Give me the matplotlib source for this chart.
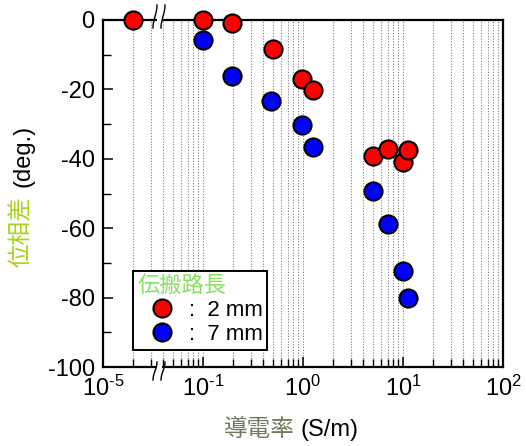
import matplotlib
matplotlib.use("Agg")
import matplotlib.pyplot as plt
from matplotlib.ticker import FixedLocator, NullFormatter, FixedFormatter
from matplotlib.lines import Line2D
import numpy as np

plt.rcParams['font.family'] = ['Liberation Sans', 'Noto Sans CJK JP', 'DejaVu Sans']
plt.rcParams['mathtext.fontset'] = 'custom'
plt.rcParams['mathtext.rm'] = 'Liberation Sans'
plt.rcParams['mathtext.it'] = 'Liberation Sans'
plt.rcParams['mathtext.default'] = 'regular'
plt.rcParams['axes.unicode_minus'] = False

# ---- data ----
cond_2mm = [2e-5, 0.10, 0.194, 0.50, 0.98, 1.27, 5.0, 7.0, 9.9, 11.1]
phase_2mm = [0.0, 0.0, -1.0, -8.4, -16.9, -20.2, -39.1, -37.2, -41.0, -37.4]
cond_7mm = [0.10, 0.195, 0.475, 0.98, 1.27, 5.0, 7.0, 9.9, 11.1]
phase_7mm = [-5.8, -16.1, -23.4, -30.2, -36.6, -49.2, -58.8, -72.3, -80.0]
xtick_vals = [1e-2, 1e-1, 1, 10, 100]
xtick_labels = [r'$10^{\text{-}5}$', r'$10^{\text{-}1}$', '$10^{0}$', '$10^{1}$', '$10^{2}$']
yticks = [0, -20, -40, -60, -80, -100]
legend_labels = [':  2 mm', ':  7 mm']

BREAK_LOW = 1e-3     # values below this live in the compressed segment
BREAK_SHIFT = 1e3    # 1e-5 (real) is drawn at 1e-2 on the axis


def axis_x(vals):
    v = np.asarray(vals, dtype=float)
    return np.where(v < BREAK_LOW, v * BREAK_SHIFT, v)


W, H = 526, 446
fig = plt.figure(figsize=(W / 100, H / 100), dpi=100)
L, R, T, B = 103, 503, 20, 367
ax = fig.add_axes([L / W, 1 - B / H, (R - L) / W, (B - T) / H])

ax.set_xscale('log')
ax.set_xlim(1e-2, 1e2)
ax.set_ylim(-100, 0)

ax.xaxis.set_major_locator(FixedLocator(xtick_vals))
ax.xaxis.set_major_formatter(FixedFormatter(xtick_labels))
minors = [m * 10.0 ** e for e in range(-2, 2) for m in range(2, 10)]
ax.xaxis.set_minor_locator(FixedLocator(minors))
ax.xaxis.set_minor_formatter(NullFormatter())
ax.set_yticks(yticks)
ax.set_yticks(np.arange(-90, 0, 20), minor=True)

ax.grid(True, which='both', axis='x', linestyle=(0, (1, 1.5)), color='0.5', linewidth=0.8)
ax.set_axisbelow(True)

for s in ax.spines.values():
    s.set_linewidth(1.6)

ax.tick_params(axis='both', which='major', direction='in', length=7.5, width=1.1,
               labelsize=17, pad=6, top=False, right=False)
ax.tick_params(axis='both', which='minor', direction='in', length=5.5, width=1.0,
               top=False, right=False)

ax.scatter(axis_x(cond_2mm), phase_2mm, s=170, facecolor='#ff0000', edgecolor='black',
           linewidth=1.5, zorder=4, clip_on=False)
ax.scatter(axis_x(cond_7mm), phase_7mm, s=170, facecolor='#0000ff', edgecolor='black',
           linewidth=1.5, zorder=4, clip_on=False)

# axis break marks
ax_w, ax_h = R - L, B - T
for ypix_top, ypix_bot in [(-15, 8), (B - T - 5, B - T + 13)]:
    for xpix in (155, 163):
        yy = np.linspace(ypix_top, ypix_bot, 30)
        xx = xpix - L - 2.0 * np.sin((yy - ypix_top) / (ypix_bot - ypix_top) * np.pi - np.pi / 2)
        ax.plot(xx / ax_w, 1 - yy / ax_h, transform=ax.transAxes, color='black',
                lw=1.0, clip_on=False, zorder=6)
    for yspine in (0, B - T):
        ax.add_patch(plt.Rectangle(((156.5 - L) / ax_w, 1 - (yspine + 2) / ax_h),
                                   5 / ax_w, 4 / ax_h, transform=ax.transAxes,
                                   facecolor='white', edgecolor='none', clip_on=False, zorder=5))

# axis labels (two-colour)
fig.text(295 / W, 1 - 430 / H, '導電率', color='#6b7b5b', fontsize=17, ha='right', va='center')
fig.text(300 / W, 1 - 430 / H, '(S/m)', color='black', fontsize=17, ha='left', va='center')
fig.text(22 / W, 1 - 232 / H, '位相差', color='#a8d41c', fontsize=17, rotation=90,
         ha='center', va='center')
fig.text(23 / W, 1 - 156 / H, '(deg.)', color='black', fontsize=17, rotation=90,
         ha='center', va='center')

handles = [Line2D([], [], ls='none', marker='o', markersize=13, markerfacecolor='#ff0000',
                  markeredgecolor='black', markeredgewidth=1.5),
           Line2D([], [], ls='none', marker='o', markersize=13, markerfacecolor='#0000ff',
                  markeredgecolor='black', markeredgewidth=1.5)]
leg = ax.legend(handles, legend_labels, title='伝搬路長', loc='upper left',
                bbox_to_anchor=(133 / W, 1 - 271 / H), bbox_transform=fig.transFigure,
                borderaxespad=0, fontsize=16, title_fontsize=16, frameon=True,
                fancybox=False, framealpha=1, edgecolor='black', handlelength=2.2,
                handletextpad=0.1, labelspacing=0.15, borderpad=0.2,
                alignment='left')
leg.get_frame().set_linewidth(1.4)
leg.get_title().set_color('#88e060')
leg.set_zorder(10)

fig.savefig('out.png', dpi=100)
